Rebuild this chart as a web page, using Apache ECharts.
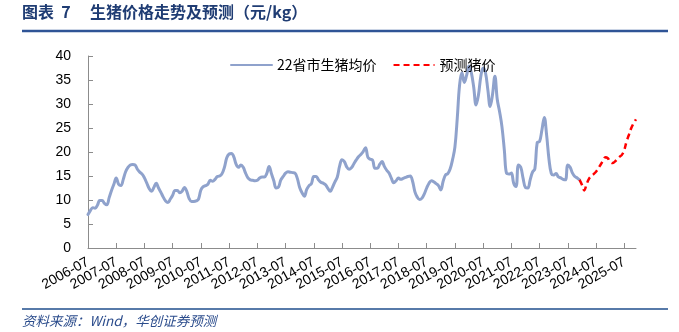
<!DOCTYPE html>
<html>
<head>
<meta charset="utf-8">
<script src="https://cdn.jsdelivr.net/npm/echarts@6/dist/echarts.min.js"></script>
<style>
  html, body { margin: 0; padding: 0; background: #fff; }
  #chart { width: 679px; height: 332px; }
</style>
</head>
<body>
<div id="chart"></div>
<script>
// Monthly axis: 2006-07 through 2025-12
const startYear = 2006, startMonth = 7, monthCount = 234;

// 22省市生猪均价 (元/kg), monthly from 2006-07
const priceHistory = [
  7.0, 7.8, 8.4, 8.3, 8.9, 9.9, 9.9, 9.3, 9.0, 10.5, 12.0, 13.3,
  14.6, 13.3, 13.0, 14.3, 15.9, 16.8, 17.3, 17.4, 17.3, 16.4, 15.8, 15.4,
  14.6, 13.5, 12.4, 11.8, 12.6, 13.5, 12.5, 11.6, 10.6, 9.8, 9.5, 10.2,
  11.0, 12.0, 12.0, 11.5, 11.8, 12.6, 11.8, 10.3, 9.7, 9.7, 9.8, 10.2,
  12.1, 12.8, 13.0, 13.3, 14.1, 13.9, 14.3, 14.9, 15.0, 15.5, 16.8, 18.8,
  19.6, 19.7, 19.0, 17.4, 16.8, 17.3, 16.8, 15.6, 14.6, 14.2, 14.1, 14.0,
  14.1, 14.6, 14.8, 14.8, 15.5, 17.0, 15.5, 14.0, 12.5, 12.7, 14.2, 14.9,
  15.6, 15.9, 15.8, 15.7, 15.6, 14.5, 12.6, 11.5, 10.8, 12.2, 13.0, 13.4,
  14.9, 14.9, 14.2, 13.7, 13.5, 13.2, 12.4, 11.8, 12.7, 13.8, 14.8, 17.1,
  18.4, 18.0, 16.9, 16.4, 16.7, 17.5, 18.3, 19.0, 19.5, 20.1, 20.9, 18.9,
  18.5, 18.3, 16.6, 16.6, 17.4, 18.0, 17.0, 16.2, 15.6, 14.5, 13.6, 14.0,
  14.6, 14.3, 14.5, 14.7, 14.9, 15.0, 13.9, 11.7, 10.6, 10.1, 10.4, 11.3,
  12.5, 13.5, 14.0, 13.8, 13.4, 13.0, 12.1, 13.9, 15.2, 15.5, 16.5, 18.4,
  21.0, 27.0, 34.0, 36.5, 34.5, 36.0, 37.9, 36.5, 33.5, 29.8, 31.8, 35.7,
  37.5, 36.5, 33.0, 29.5, 32.0, 35.8, 31.0, 28.4, 25.3, 20.5, 15.5, 15.4,
  15.6, 13.5, 12.8, 17.3, 16.8, 14.5, 12.6, 12.5, 14.2, 15.8, 16.5, 22.0,
  22.2, 24.6, 27.2, 23.5, 18.5, 15.5, 15.2, 15.5, 14.8, 14.6, 14.3, 14.2,
  17.3, 16.8, 15.6, 14.9, 14.6, 14.2
];

// 预测猪价 (元/kg), monthly from 2023-12
const forecastStart = '2023-12';
const priceForecast = [
  14.2, 13.2, 12.0, 13.3, 14.4, 15.0, 15.4, 15.9, 16.6, 17.4, 18.2, 18.9,
  18.7, 18.0, 17.7, 18.0, 18.5, 19.0, 19.4, 20.4, 22.2, 23.6, 25.0, 26.0, 26.8
];

const yTicks = { min: 0, max: 40, step: 5 };

const months = [];
for (let i = 0; i < monthCount; i++) {
  const m = startMonth - 1 + i;
  const y = startYear + Math.floor(m / 12);
  const mm = (m % 12) + 1;
  months.push(y + '-' + (mm < 10 ? '0' + mm : mm));
}

const histData = months.map((_, i) => i < priceHistory.length ? priceHistory[i] : null);
const fStart = months.indexOf(forecastStart);
const foreData = months.map((_, i) => {
  const k = i - fStart;
  return k >= 0 && k < priceForecast.length ? priceForecast[k] : null;
});

// July of each year carries a tick and a label; labels alternate between two
// stacked bottom axes so neighbouring rotated labels are never dropped.
const yearTick = (idx) => months[idx].endsWith('-07');
const yearParity = (idx) => (parseInt(months[idx].slice(0, 4), 10) - startYear) % 2;

const labelStyle = {
  rotate: 29, margin: 13, hideOverlap: false,
  fontFamily: 'Liberation Sans, Arial, sans-serif', fontSize: 14, color: '#000'
};

const chart = echarts.init(document.getElementById('chart'), null, { renderer: 'canvas' });
chart.setOption({
  animation: false,
  backgroundColor: '#fff',
  grid: { left: 88, right: 43, top: 56, bottom: 84, containLabel: false },
  legend: {
    left: 225, top: 53,
    itemWidth: 41, itemHeight: 14, itemGap: 16,
    itemStyle: { opacity: 0 },
    textStyle: { fontFamily: 'Noto Sans CJK SC, Liberation Sans, sans-serif', fontSize: 14, color: '#000' },
    data: ['22省市生猪均价', '预测猪价']
  },
  xAxis: [
    {
      type: 'category',
      position: 'bottom',
      data: months,
      boundaryGap: false,
      axisLine: { lineStyle: { color: '#8c8c8c', width: 1 } },
      axisTick: { inside: true, length: 5, interval: (idx) => yearTick(idx), lineStyle: { color: '#8c8c8c' } },
      axisLabel: Object.assign({ interval: (idx) => yearTick(idx) && yearParity(idx) === 0 }, labelStyle),
      splitLine: { show: false }
    },
    {
      type: 'category',
      position: 'bottom',
      offset: 0,
      data: months,
      boundaryGap: false,
      axisLine: { show: false },
      axisTick: { show: false },
      axisLabel: Object.assign({ interval: (idx) => yearTick(idx) && yearParity(idx) === 1 }, labelStyle),
      splitLine: { show: false }
    }
  ],
  yAxis: {
    type: 'value',
    min: yTicks.min, max: yTicks.max, interval: yTicks.step,
    axisLine: { show: true, lineStyle: { color: '#8c8c8c', width: 1 } },
    axisTick: { show: true, inside: true, length: 5, lineStyle: { color: '#8c8c8c' } },
    axisLabel: { margin: 17, fontFamily: 'Liberation Sans, Arial, sans-serif', fontSize: 14, color: '#000' },
    splitLine: { show: false }
  },
  series: [
    {
      name: '22省市生猪均价',
      type: 'line',
      xAxisIndex: 0,
      data: histData,
      smooth: 0.4,
      symbol: 'none',
      lineStyle: { color: '#8fa2cc', width: 3, cap: 'round', join: 'round' },
      itemStyle: { color: '#8fa2cc' }
    },
    {
      name: '预测猪价',
      type: 'line',
      xAxisIndex: 0,
      data: foreData,
      smooth: 0.4,
      symbol: 'none',
      lineStyle: { color: '#ff0000', width: 2.5, type: [6, 4] },
      itemStyle: { color: '#ff0000' }
    }
  ],
  graphic: [
    { type: 'text', left: 22, top: 4, style: { text: '图表  7', fontFamily: 'Noto Sans CJK SC, sans-serif', fontWeight: 'bold', fontSize: 16, fill: '#1f3c73' } },
    { type: 'text', left: 90, top: 4, style: { text: '生猪价格走势及预测（元/kg）', fontFamily: 'Noto Sans CJK SC, sans-serif', fontWeight: 'bold', fontSize: 16, fill: '#1f3c73' } },
    { type: 'line', shape: { x1: 22, y1: 31, x2: 668, y2: 31 }, style: { stroke: '#2f5496', lineWidth: 2.5 } },
    { type: 'line', shape: { x1: 22, y1: 309, x2: 668, y2: 309 }, style: { stroke: '#1f4e8c', lineWidth: 1.5 } },
    { type: 'text', left: 22, top: 314, style: { text: '资料来源：Wind，华创证券预测', fontFamily: 'Noto Sans CJK SC, Liberation Serif, serif', fontStyle: 'italic', fontSize: 13.5, fill: '#2b4c8c' } }
  ]
});
</script>
</body>
</html>
